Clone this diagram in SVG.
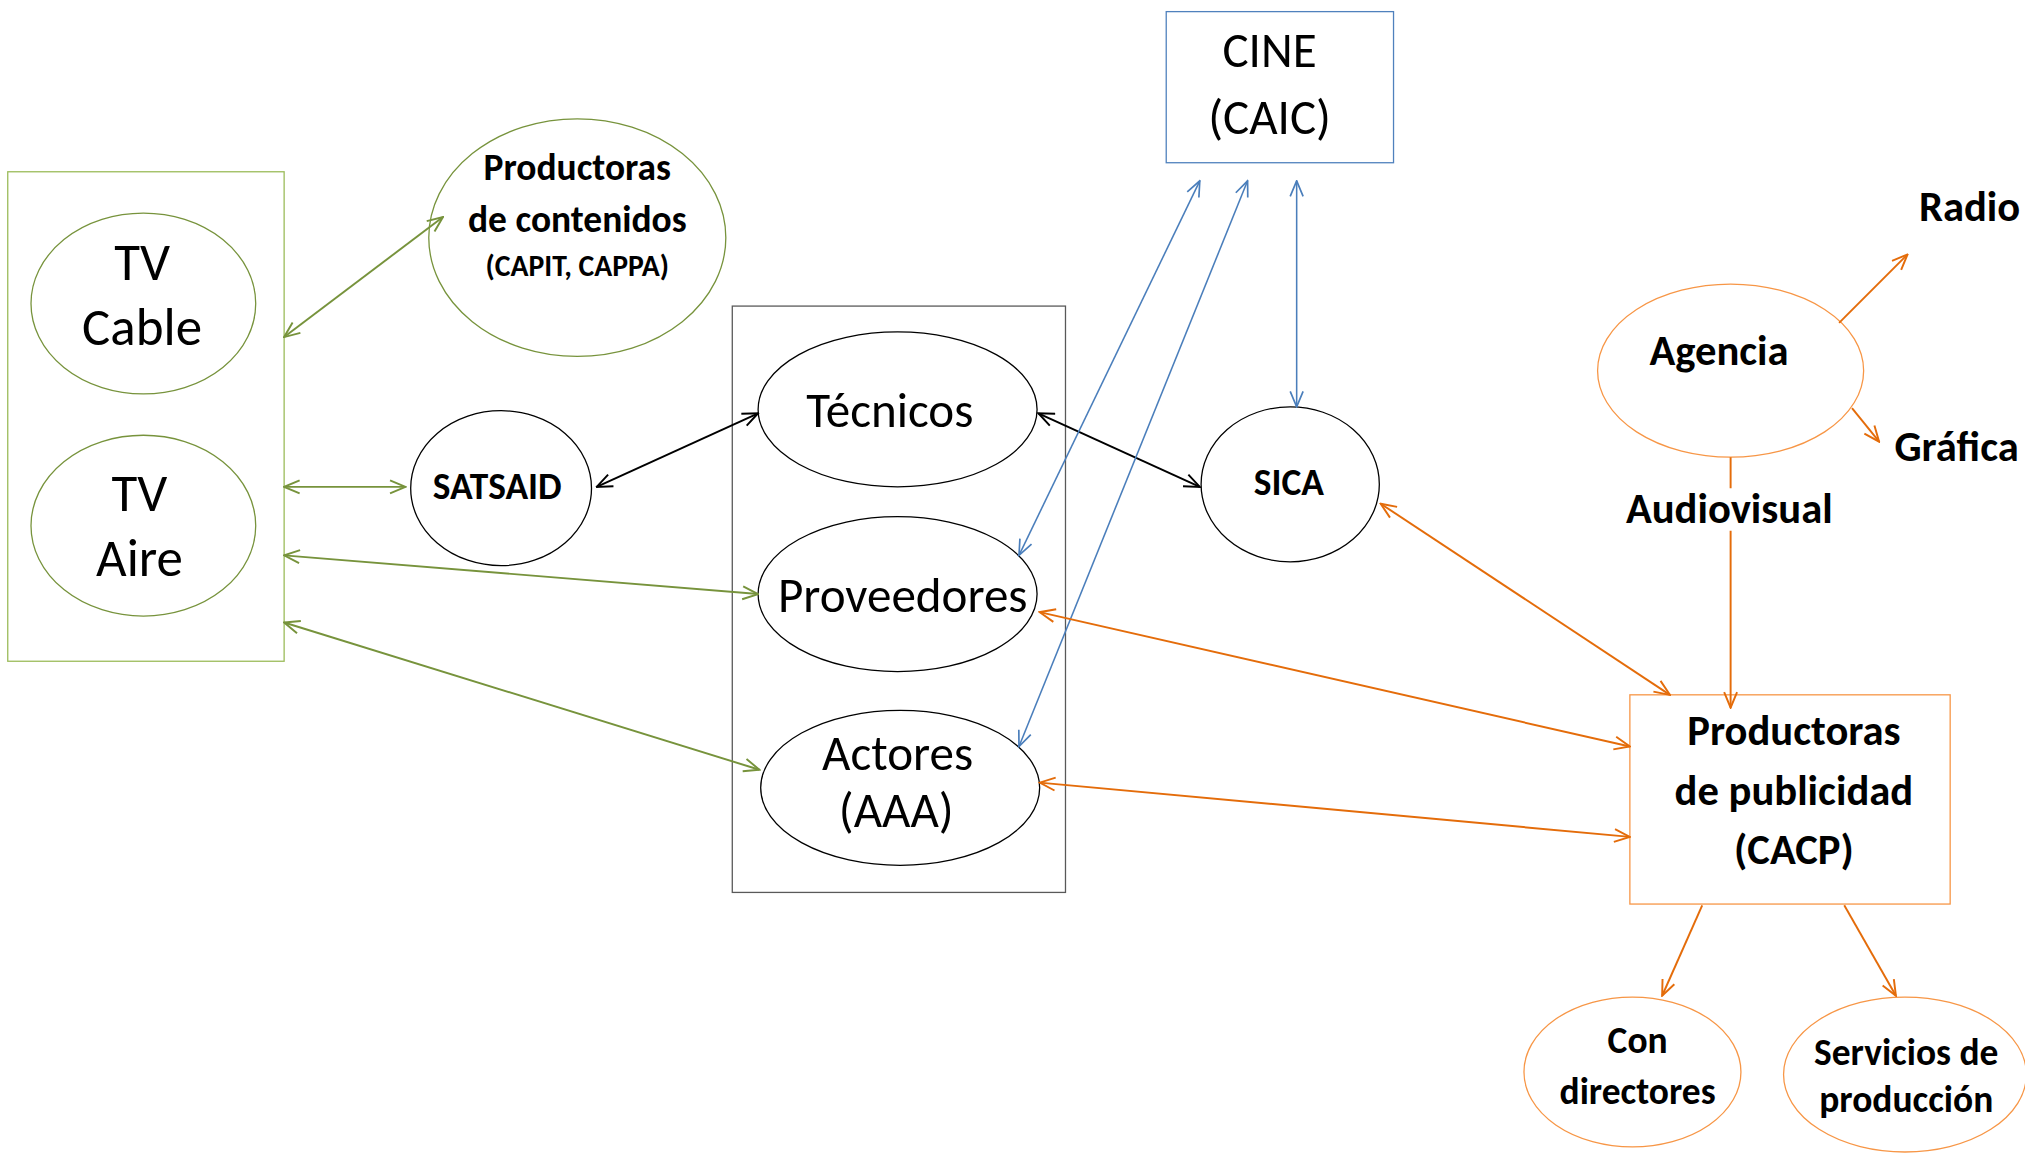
<svg xmlns="http://www.w3.org/2000/svg" width="2025" height="1155" viewBox="0 0 2025 1155">
<style>
.t{font-family:Carlito,Lato,"Liberation Sans",sans-serif;fill:#000;text-anchor:middle}
.b{font-weight:bold}
.n{fill:#fff}
.g{stroke:#77933C;stroke-width:1}
.gb{stroke:#9BBB59;stroke-width:1}
.k{stroke:#000;stroke-width:1}
.kb{stroke:#595959;stroke-width:1}
.bl{stroke:#4F81BD;stroke-width:1}
.o{stroke:#F79646;stroke-width:1}
.c{fill:none;stroke-width:1.5}
.cg{stroke:#77933C}
.ck{stroke:#000}
.cb{stroke:#4A7EBB;stroke-width:1.2}
.co{stroke:#E46C0A}
</style>
<defs>
<marker id="ag" viewBox="0 0 14 12" refX="13" refY="6" markerWidth="14" markerHeight="12" markerUnits="userSpaceOnUse" orient="auto-start-reverse"><path d="M1,1 L13,6 L1,11" fill="none" stroke="#77933C" stroke-width="1.5"/></marker>
<marker id="ak" viewBox="0 0 14 12" refX="13" refY="6" markerWidth="14" markerHeight="12" markerUnits="userSpaceOnUse" orient="auto-start-reverse"><path d="M1,1 L13,6 L1,11" fill="none" stroke="#000" stroke-width="1.5"/></marker>
<marker id="ab" viewBox="0 0 14 12" refX="13" refY="6" markerWidth="14" markerHeight="12" markerUnits="userSpaceOnUse" orient="auto-start-reverse"><path d="M1,1 L13,6 L1,11" fill="none" stroke="#4A7EBB" stroke-width="1.3"/></marker>
<marker id="ao" viewBox="0 0 14 12" refX="13" refY="6" markerWidth="14" markerHeight="12" markerUnits="userSpaceOnUse" orient="auto-start-reverse"><path d="M1,1 L13,6 L1,11" fill="none" stroke="#E46C0A" stroke-width="1.5"/></marker>
</defs>
<rect width="2025" height="1155" fill="#fff"/>
<g transform="scale(1.2915)">
<g id="tv-box"><rect x="6" y="133" width="214" height="379" class="n gb"/></g>
<g id="tv-cable"><ellipse cx="111" cy="235" rx="87" ry="70" class="n g"/><text class="t" x="110" y="217" font-size="41">TV</text><text class="t" x="110" y="267" font-size="41">Cable</text></g>
<g id="tv-aire"><ellipse cx="111" cy="407" rx="87" ry="70" class="n g"/><text class="t" x="108" y="396" font-size="41">TV</text><text class="t" x="108" y="446" font-size="41">Aire</text></g>
<g id="productoras-contenidos"><ellipse cx="447" cy="184" rx="115" ry="92" class="n g"/><text class="t b" x="447" y="139" font-size="29">Productoras</text><text class="t b" x="447" y="180" font-size="29">de contenidos</text><text class="t b" x="447" y="214" font-size="23">(CAPIT, CAPPA)</text></g>
<g id="satsaid"><ellipse cx="388" cy="378" rx="70" ry="60" class="n k"/><text class="t b" x="385" y="386" font-size="29">SATSAID</text></g>
<g id="gremios-box"><rect x="567" y="237" width="258" height="454" fill="none" class="kb"/></g>
<g id="tecnicos"><ellipse cx="695" cy="317" rx="108" ry="60" class="n k"/><text class="t" x="689" y="331" font-size="38">Técnicos</text></g>
<g id="proveedores"><ellipse cx="695" cy="460" rx="108" ry="60" class="n k"/><text class="t" x="699" y="474" font-size="38">Proveedores</text></g>
<g id="actores"><ellipse cx="697" cy="610" rx="108" ry="60" class="n k"/><text class="t" x="695" y="596" font-size="38">Actores</text><text class="t" x="694" y="640" font-size="38">(AAA)</text></g>
<g id="cine"><rect x="903" y="9" width="176" height="117" class="n bl"/><text class="t" x="983" y="52" font-size="38">CINE</text><text class="t" x="983" y="104" font-size="38">(CAIC)</text></g>
<g id="sica"><ellipse cx="999" cy="375" rx="69" ry="60" class="n k"/><text class="t b" x="998" y="383" font-size="29">SICA</text></g>
<g id="agencia"><ellipse cx="1340" cy="287" rx="103" ry="67" class="n o"/><text class="t b" x="1331" y="283" font-size="33">Agencia</text></g>
<g id="radio"><text class="t b" x="1525" y="171" font-size="33">Radio</text></g>
<g id="grafica"><text class="t b" x="1515" y="357" font-size="33">Gráfica</text></g>
<g id="audiovisual"><text class="t b" x="1339" y="405" font-size="33">Audiovisual</text></g>
<g id="productoras-publicidad"><rect x="1262" y="538" width="248" height="162" class="n o"/><text class="t b" x="1389" y="577" font-size="33">Productoras</text><text class="t b" x="1389" y="623" font-size="33">de publicidad</text><text class="t b" x="1389" y="669" font-size="33">(CACP)</text></g>
<g id="con-directores"><ellipse cx="1264" cy="830" rx="84" ry="58" class="n o"/><text class="t b" x="1268" y="815" font-size="29">Con</text><text class="t b" x="1268" y="855" font-size="29">directores</text></g>
<g id="servicios-produccion"><ellipse cx="1475" cy="832" rx="94" ry="60" class="n o"/><text class="t b" x="1476" y="825" font-size="29">Servicios de</text><text class="t b" x="1476" y="861" font-size="29">producción</text></g>
<g id="connectors">
<path class="c cg" d="M220,261 L343,168" marker-start="url(#ag)" marker-end="url(#ag)"/>
<path class="c cg" d="M220,377 L314,377" marker-start="url(#ag)" marker-end="url(#ag)"/>
<path class="c cg" d="M220,430 L587,460" marker-start="url(#ag)" marker-end="url(#ag)"/>
<path class="c cg" d="M220,482 L588,596" marker-start="url(#ag)" marker-end="url(#ag)"/>
<path class="c ck" d="M462,377 L587,320" marker-start="url(#ak)" marker-end="url(#ak)"/>
<path class="c ck" d="M804,320 L929,377" marker-start="url(#ak)" marker-end="url(#ak)"/>
<path class="c cb" d="M929,140 L789,430" marker-start="url(#ab)" marker-end="url(#ab)"/>
<path class="c cb" d="M966,140 L789,578" marker-start="url(#ab)" marker-end="url(#ab)"/>
<path class="c cb" d="M1004,140 L1004,315" marker-start="url(#ab)" marker-end="url(#ab)"/>
<path class="c co" d="M1069,390 L1293,538" marker-start="url(#ao)" marker-end="url(#ao)"/>
<path class="c co" d="M805,474 L1262,578" marker-start="url(#ao)" marker-end="url(#ao)"/>
<path class="c co" d="M805,606 L1262,648" marker-start="url(#ao)" marker-end="url(#ao)"/>
<path class="c co" d="M1424,250 L1477,197" marker-end="url(#ao)"/>
<path class="c co" d="M1434,316 L1455,342" marker-end="url(#ao)"/>
<path class="c co" d="M1340,354 V378 M1340,411 V548" stroke-width="1" marker-end="url(#ao)"/>
<path class="c co" d="M1318,701 L1287,771" marker-end="url(#ao)"/>
<path class="c co" d="M1428,701 L1468,771" marker-end="url(#ao)"/>
</g>
</g>
</svg>
